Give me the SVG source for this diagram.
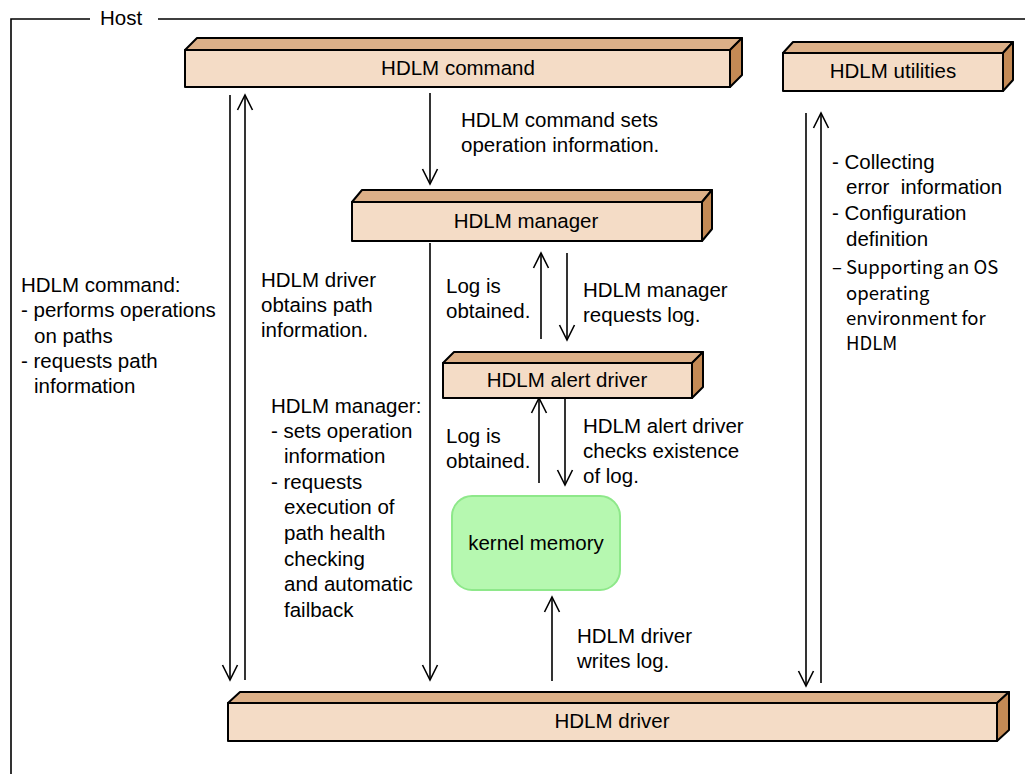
<svg xmlns="http://www.w3.org/2000/svg" width="1025" height="774" viewBox="0 0 1025 774">
<style>
.t{font-family:"Liberation Sans",Arial,sans-serif;font-size:20.5px;fill:#000}
.g{font-family:"Noto Sans CJK JP","DejaVu Sans",sans-serif;font-size:18.5px;fill:#000}
.c{text-anchor:middle}
.front{fill:#f4dcc6;stroke:#000;stroke-width:2;stroke-linejoin:round}
.top{fill:#dcb088;stroke:#000;stroke-width:2;stroke-linejoin:round}
.side{fill:#c48a55;stroke:#000;stroke-width:2;stroke-linejoin:round}
.ln{fill:none;stroke:#000;stroke-width:1.6}
</style>
<defs>
<marker id="ah" markerUnits="userSpaceOnUse" viewBox="-17 -9 19 18" refX="0" refY="0" markerWidth="19" markerHeight="18" orient="auto" overflow="visible">
<path d="M-15,-7.5 L0,0 L-15,7.5" fill="none" stroke="#000" stroke-width="1.6"/>
</marker>
</defs>
<rect width="1025" height="774" fill="#fff"/>
<g id="host">
<path d="M1025,19 H158 M90,19 H11 V774" fill="none" stroke="#000" stroke-width="1.6"/>
<text class="t" x="100" y="25">Host</text>
</g>
<g id="connectors">
<path class="ln" d="M230,95 V680" marker-end="url(#ah)"/>
<path class="ln" d="M245,680 V95" marker-end="url(#ah)"/>
<path class="ln" d="M430,93 V184" marker-end="url(#ah)"/>
<path class="ln" d="M430,243 V680" marker-end="url(#ah)"/>
<path class="ln" d="M541,339 V253" marker-end="url(#ah)"/>
<path class="ln" d="M567,253 V340" marker-end="url(#ah)"/>
<path class="ln" d="M539,483 V398" marker-end="url(#ah)"/>
<path class="ln" d="M565,398 V485" marker-end="url(#ah)"/>
<path class="ln" d="M552,681 V597" marker-end="url(#ah)"/>
<path class="ln" d="M806,113 V686" marker-end="url(#ah)"/>
<path class="ln" d="M821,683 V113" marker-end="url(#ah)"/>
</g>
<g id="cmd">
<polygon class="top" points="185,50 197,38 742,38 730,50"/>
<polygon class="side" points="730,50 742,38 742,75 730,87"/>
<rect class="front" x="185" y="50" width="545" height="37"/>
<text class="t c" x="458" y="75">HDLM command</text>
</g>
<g id="util">
<polygon class="top" points="783,53 793,42 1013,42 1003,53"/>
<polygon class="side" points="1003,53 1013,42 1013,80 1003,91"/>
<rect class="front" x="783" y="53" width="220" height="38"/>
<text class="t c" x="893" y="78">HDLM utilities</text>
</g>
<g id="mgr">
<polygon class="top" points="352,202 362,190 712,190 702,202"/>
<polygon class="side" points="702,202 712,190 712,229 702,241"/>
<rect class="front" x="352" y="202" width="350" height="39"/>
<text class="t c" x="526" y="228">HDLM manager</text>
</g>
<g id="alert">
<polygon class="top" points="443,363 454,352 703,352 692,363"/>
<polygon class="side" points="692,363 703,352 703,387 692,398"/>
<rect class="front" x="443" y="363" width="249" height="35"/>
<text class="t c" x="567" y="387">HDLM alert driver</text>
</g>
<g id="kmem">
<rect x="452" y="496" width="168" height="94" rx="20" ry="20" fill="#b6f8b0" stroke="#8ee88a" stroke-width="2"/>
<text class="t c" x="536" y="550">kernel memory</text>
</g>
<g id="drv">
<polygon class="top" points="228,703 240,692 1009,692 997,703"/>
<polygon class="side" points="997,703 1009,692 1009,730 997,741"/>
<rect class="front" x="228" y="703" width="769" height="38"/>
<text class="t c" x="612" y="728">HDLM driver</text>
</g>
<g id="labels">
<text class="t" x="461" y="127">HDLM command sets</text>
<text class="t" x="461" y="152">operation information.</text>
<text class="t" x="446" y="293">Log is</text>
<text class="t" x="446" y="318">obtained.</text>
<text class="t" x="583" y="297">HDLM manager</text>
<text class="t" x="583" y="322">requests log.</text>
<text class="t" x="446" y="443">Log is</text>
<text class="t" x="446" y="468">obtained.</text>
<text class="t" x="583" y="433">HDLM alert driver</text>
<text class="t" x="583" y="458">checks existence</text>
<text class="t" x="583" y="483">of log.</text>
<text class="t" x="577" y="643">HDLM driver</text>
<text class="t" x="577" y="668">writes log.</text>
<text class="t" x="21" y="292">HDLM command:</text>
<text class="t" x="21" y="317">- performs operations</text>
<text class="t" x="34" y="343">on paths</text>
<text class="t" x="21" y="368">- requests path</text>
<text class="t" x="34" y="393">information</text>
<text class="t" x="261" y="287">HDLM driver</text>
<text class="t" x="261" y="312">obtains path</text>
<text class="t" x="261" y="337">information.</text>
<text class="t" x="271" y="413">HDLM manager:</text>
<text class="t" x="271" y="438">- sets operation</text>
<text class="t" x="284" y="463">information</text>
<text class="t" x="271" y="489">- requests</text>
<text class="t" x="284" y="514">execution of</text>
<text class="t" x="284" y="540">path health</text>
<text class="t" x="284" y="566">checking</text>
<text class="t" x="284" y="591">and automatic</text>
<text class="t" x="284" y="617">failback</text>
<text class="t" x="832" y="169">- Collecting</text>
<text class="t" x="846" y="194" style="white-space:pre">error  information</text>
<text class="t" x="832" y="220">- Configuration</text>
<text class="t" x="846" y="246">definition</text>
<text class="g" x="832" y="274">– Supporting an OS</text>
<text class="g" x="846" y="300">operating</text>
<text class="g" x="846" y="325">environment for</text>
<text class="g" x="846" y="350">HDLM</text>
</g>
</svg>
